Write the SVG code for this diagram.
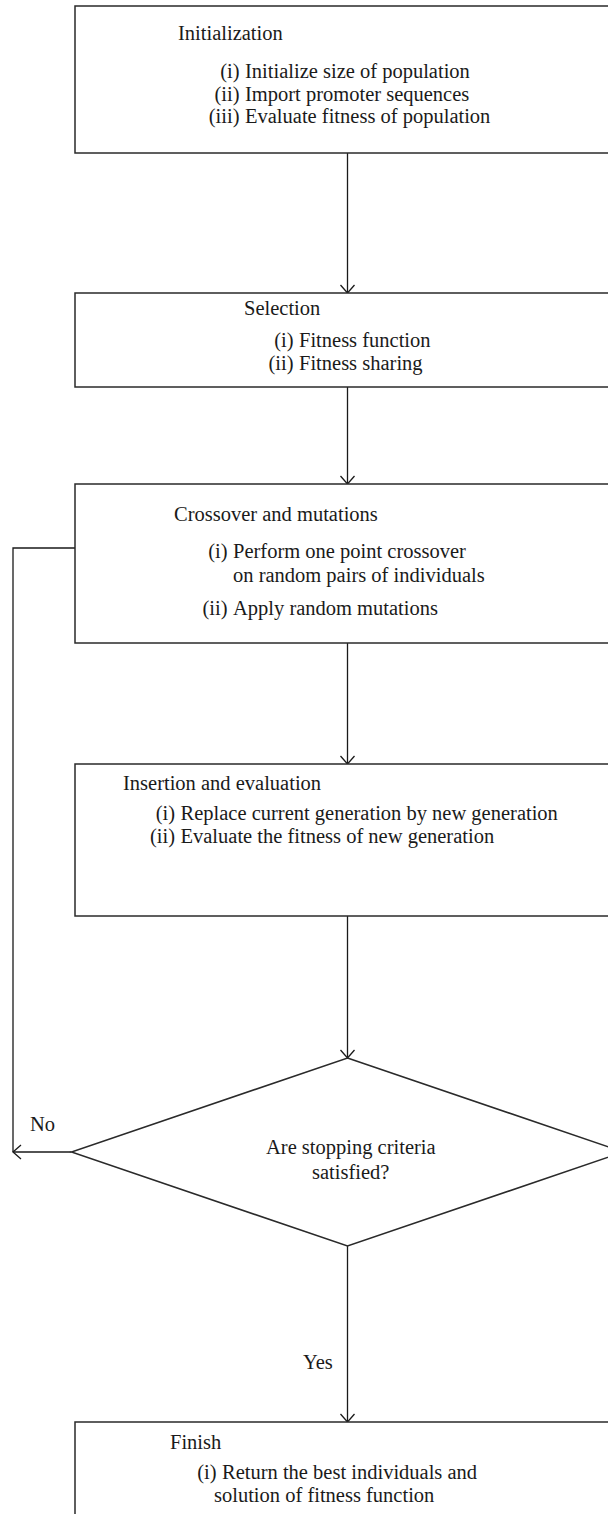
<svg xmlns="http://www.w3.org/2000/svg" width="608" height="1514" viewBox="0 0 608 1514">
  <style>
    .box { fill: #ffffff; stroke: #2a2a2a; stroke-width: 1.5; }
    .t { font-family: "Liberation Serif", "DejaVu Serif", serif; font-size: 20.5px; fill: #1a1a1a; }
    .lbl { text-anchor: end; }
    .conn { fill: none; stroke: #1a1a1a; stroke-width: 1.3; }
  </style>
  <defs>
    <marker id="arr" viewBox="-10 -9 12 18" refX="0" refY="0" markerWidth="12" markerHeight="18" markerUnits="userSpaceOnUse" orient="auto" overflow="visible">
      <path d="M -8 -7 L 0 0 L -8 7" fill="none" stroke="#1a1a1a" stroke-width="1.3"/>
    </marker>
  </defs>

  <g id="connectors">
    <line class="conn" x1="347.5" y1="153" x2="347.5" y2="293" marker-end="url(#arr)"/>
    <line class="conn" x1="347.5" y1="387" x2="347.5" y2="484" marker-end="url(#arr)"/>
    <line class="conn" x1="347.5" y1="643" x2="347.5" y2="764" marker-end="url(#arr)"/>
    <line class="conn" x1="347.5" y1="916" x2="347.5" y2="1058" marker-end="url(#arr)"/>
    <line class="conn" x1="347.5" y1="1246" x2="347.5" y2="1422" marker-end="url(#arr)"/>
    <line class="conn" x1="71.5" y1="1152" x2="13" y2="1152" marker-end="url(#arr)"/>
    <polyline class="conn" points="13,1152 13,548 75,548"/>
    <text class="t" x="30" y="1131">No</text>
    <text class="t" x="303" y="1369">Yes</text>
  </g>

  <g id="initialization">
    <rect class="box" x="75" y="6" width="560" height="147"/>
    <text class="t" x="178" y="40">Initialization</text>
    <text class="t lbl" x="239.5" y="78">(i)</text>
    <text class="t" x="245" y="78">Initialize size of population</text>
    <text class="t lbl" x="239.5" y="100.5">(ii)</text>
    <text class="t" x="245" y="100.5">Import promoter sequences</text>
    <text class="t lbl" x="239.5" y="123">(iii)</text>
    <text class="t" x="245" y="123">Evaluate fitness of population</text>
  </g>

  <g id="selection">
    <rect class="box" x="75" y="293" width="560" height="94"/>
    <text class="t" x="244" y="315">Selection</text>
    <text class="t lbl" x="293.5" y="347">(i)</text>
    <text class="t" x="299" y="347">Fitness function</text>
    <text class="t lbl" x="293.5" y="369.5">(ii)</text>
    <text class="t" x="299" y="369.5">Fitness sharing</text>
  </g>

  <g id="crossover">
    <rect class="box" x="75" y="484" width="560" height="159"/>
    <text class="t" x="174" y="521">Crossover and mutations</text>
    <text class="t lbl" x="227.5" y="558">(i)</text>
    <text class="t" x="233" y="558">Perform one point crossover</text>
    <text class="t" x="233" y="582">on random pairs of individuals</text>
    <text class="t lbl" x="227.5" y="615">(ii)</text>
    <text class="t" x="233" y="615">Apply random mutations</text>
  </g>

  <g id="insertion">
    <rect class="box" x="75" y="764" width="560" height="152"/>
    <text class="t" x="123" y="790">Insertion and evaluation</text>
    <text class="t lbl" x="175" y="820">(i)</text>
    <text class="t" x="180.5" y="820">Replace current generation by new generation</text>
    <text class="t lbl" x="175" y="842.5">(ii)</text>
    <text class="t" x="180.5" y="842.5">Evaluate the fitness of new generation</text>
  </g>

  <g id="decision">
    <polygon class="box" points="347.5,1058 623.5,1152 347.5,1246 71.5,1152"/>
    <text class="t" x="266" y="1154">Are stopping criteria</text>
    <text class="t" x="312" y="1179">satisfied?</text>
  </g>

  <g id="finish">
    <rect class="box" x="75" y="1422" width="560" height="120"/>
    <text class="t" x="170" y="1449">Finish</text>
    <text class="t lbl" x="216.5" y="1479">(i)</text>
    <text class="t" x="222" y="1479">Return the best individuals and</text>
    <text class="t" x="214" y="1501.5">solution of fitness function</text>
  </g>
</svg>
